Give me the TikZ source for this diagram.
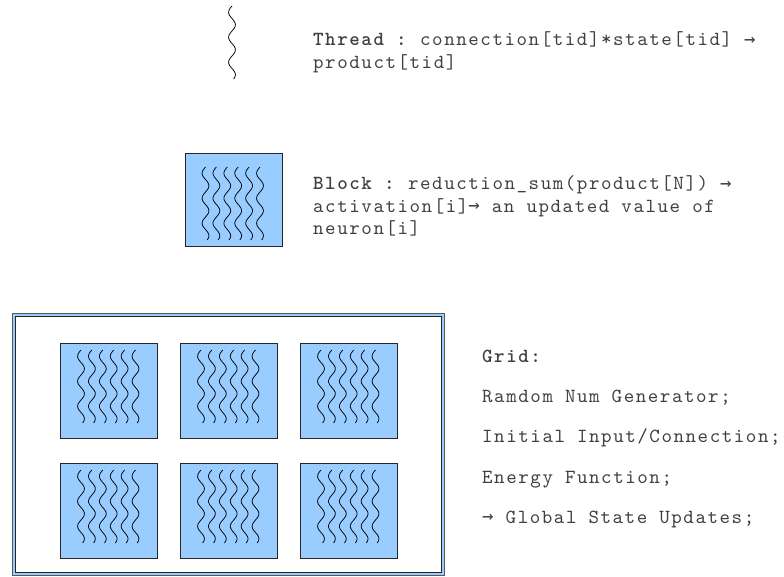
\documentclass[tikz,border=0pt]{standalone}
\usepackage{fontspec}
\setmonofont{lmmono10-regular.otf}[BoldFont=lmmonolt10-bold.otf, LetterSpace=7.8]
\newfontfamily\arrfont{DejaVu Sans Mono}
\newcommand{\rarr}{{\arrfont\fontsize{19}{23}\selectfont\raisebox{0.5pt}{→}}}
\definecolor{boxblue}{HTML}{99CCFF}
\definecolor{txtgray}{HTML}{404040}
\begin{document}
\begin{tikzpicture}[x=1pt,y=-1pt,
  lbl/.style={anchor=base west, inner sep=0pt, text=txtgray, font=\ttfamily\fontsize{20}{23}\selectfont},
  blockbox/.style={draw=black!85, line width=0.8pt, fill=boxblue, minimum width=97pt, minimum height=95pt, inner sep=0pt, anchor=north west},
  wavy/.style={black, line width=0.75pt}]
\useasboundingbox (0,0) rectangle (784,577);
\newcommand{\mywave}[3]{\draw[wavy] plot[domain=0:#3, samples=80, smooth, variable=\t] ({#1-3.4*sin(14.4*\t)},{#2+\t});}
\newcommand{\mysix}[2]{\foreach \k in {0,...,5} {\mywave{#1+21+10.9*\k}{#2}{73}}}

% Thread
\mywave{232}{6}{73}
\node[lbl] (thread1) at (313,46) {\textbf{Thread :} connection[tid]*state[tid] \rarr};
\node[lbl] (thread2) at (313,68.5) {product[tid]};

% Block
\node[blockbox, minimum height=93pt] (block) at (184.5,153) {};
\mysix{184.5}{167}
\node[lbl] (block1) at (313,190) {\textbf{Block :} reduction\_sum(product[N]) \rarr};
\node[lbl] (block2) at (313,212.5) {activation[i]\rarr\ an updated value of};
\node[lbl] (block3) at (313,235) {neuron[i]};

% Grid
\node[draw=black!65, fill=boxblue, line width=0.9pt, minimum width=432pt, minimum height=262pt, anchor=north west, inner sep=0pt] (gridouter) at (12,313) {};
\node[draw=black!85, fill=white, line width=0.8pt, minimum width=426pt, minimum height=256pt, anchor=north west, inner sep=0pt] (gridinner) at (15,316) {};
\foreach \c/\cx in {1/60,2/180,3/300} {
  \foreach \r/\ry in {1/343,2/463} {
    \node[blockbox] (g\r\c) at (\cx,\ry) {};
    \mysix{\cx}{\ry+7}
  }
}
\node[lbl] (grid0) at (482,362) {\textbf{Grid:}};
\node[lbl] (grid1) at (482,402) {Ramdom Num Generator;};
\node[lbl] (grid2) at (482,442.5) {Initial Input/Connection;};
\node[lbl] (grid3) at (482,483) {Energy Function;};
\node[lbl] (grid4) at (482,523) {\rarr\ Global State Updates;};
\end{tikzpicture}
\end{document}
